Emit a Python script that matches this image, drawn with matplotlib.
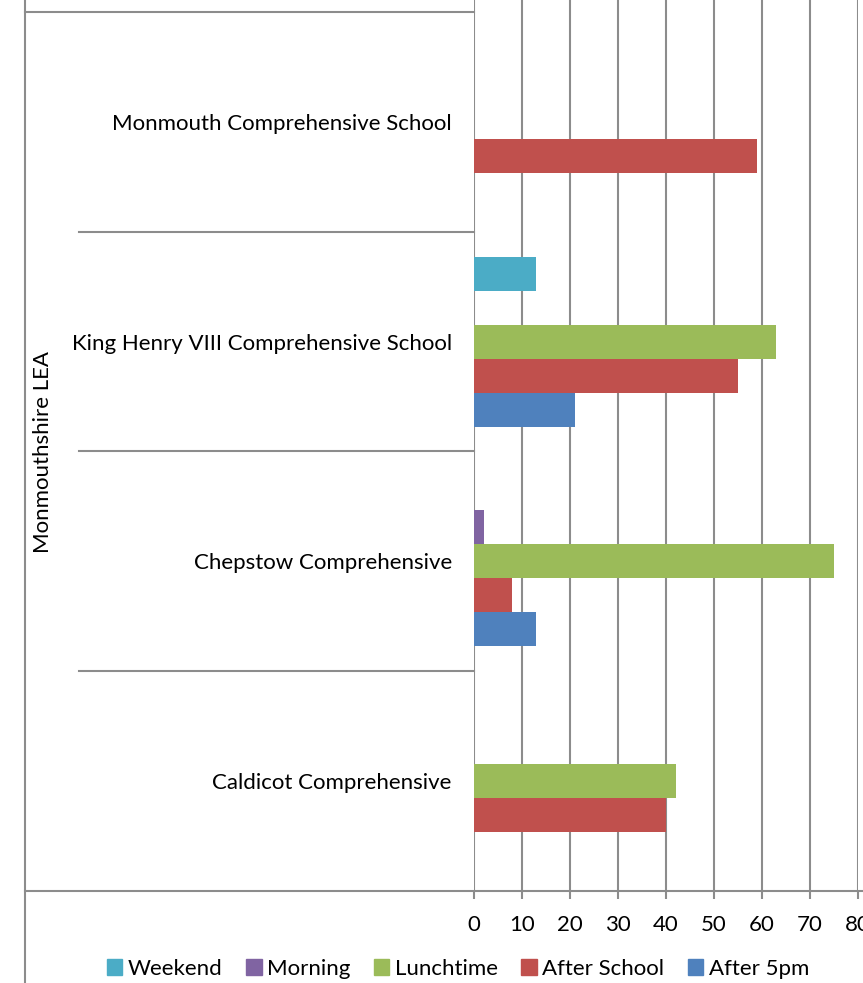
import matplotlib
matplotlib.use("Agg")
import matplotlib.pyplot as plt
import matplotlib.transforms as mtransforms
from matplotlib.patches import Patch
import numpy as np

plt.rcParams["font.family"] = ["Lato", "DejaVu Sans"]

W, H = 863, 983

schools = ["Caldicot Comprehensive", "Chepstow Comprehensive",
           "King Henry VIII Comprehensive School", "Monmouth Comprehensive School"]
series_names = ["Weekend", "Morning", "Lunchtime", "After School", "After 5pm"]
weekend = [0, 0, 13, 0]
morning = [0, 2, 0, 0]
lunchtime = [42, 75, 63, 0]
after_school = [40, 8, 55, 59]
after_5pm = [0, 13, 21, 0]
group_label = "Monmouthshire LEA"
x_ticks = [0, 10, 20, 30, 40, 50, 60, 70, 80]

colors = ["#4BACC6", "#8064A2", "#9BBB59", "#C0504D", "#4F81BD"]
line_col = "#8C8C8C"
FS = 16


def fx(px):
    return px / W


def fy(py):
    return 1 - py / H


def main():
    fig = plt.figure(figsize=(W / 100, H / 100), dpi=100)
    ax = fig.add_axes([fx(474), fy(891), fx(858) - fx(474), fy(0) - fy(891)])

    values = [weekend, morning, lunchtime, after_school, after_5pm]
    y = np.arange(len(schools))
    bh = 34 / 220
    for i, (vals, name) in enumerate(zip(values, series_names)):
        ax.barh(y + (2 - i) * bh, vals, height=bh, color=colors[i], label=name,
                linewidth=0, zorder=3)

    ax.set_xlim(0, 80)
    ax.set_ylim(-0.5, 3.5 + 12 / 220)
    ax.set_xticks(x_ticks)
    ax.set_yticks(y)
    ax.set_yticklabels(schools, fontsize=FS)
    ax.tick_params(axis="y", length=0, pad=16)
    ax.tick_params(axis="x", length=6, width=1.5, color=line_col, pad=11, labelsize=FS)
    ax.grid(axis="x", color=line_col, linewidth=1.5, zorder=0)
    for s in ax.spines.values():
        s.set_visible(False)

    # category separators in the label area
    tr = mtransforms.blended_transform_factory(fig.transFigure, ax.transData)
    for yy in [0.5, 1.5, 2.5]:
        fig.lines.append(plt.Line2D([fx(79), fx(474)], [yy, yy], transform=tr,
                                    color=line_col, linewidth=1.5))
    fig.lines.append(plt.Line2D([fx(25), fx(474)], [3.5, 3.5], transform=tr,
                                color=line_col, linewidth=1.5))
    fig.lines.append(plt.Line2D([fx(25), 1.0], [-0.5, -0.5], transform=tr,
                                color=line_col, linewidth=1.5))
    fig.lines.append(plt.Line2D([fx(25), fx(25)], [0, 1], transform=fig.transFigure,
                                color=line_col, linewidth=1.5))

    fig.text(fx(43), fy(452), group_label, rotation=90, ha="center", va="center",
             fontsize=FS)

    handles = [Patch(color=c, label=n) for c, n in zip(colors, series_names)]
    fig.legend(handles=handles, loc="center", bbox_to_anchor=(fx(458), fy(969)),
               ncol=5, frameon=False, fontsize=FS, handlelength=0.7,
               handleheight=0.7, handletextpad=0.25, columnspacing=1.05)

    fig.savefig("out.png", dpi=100)


if __name__ == "__main__":
    main()
